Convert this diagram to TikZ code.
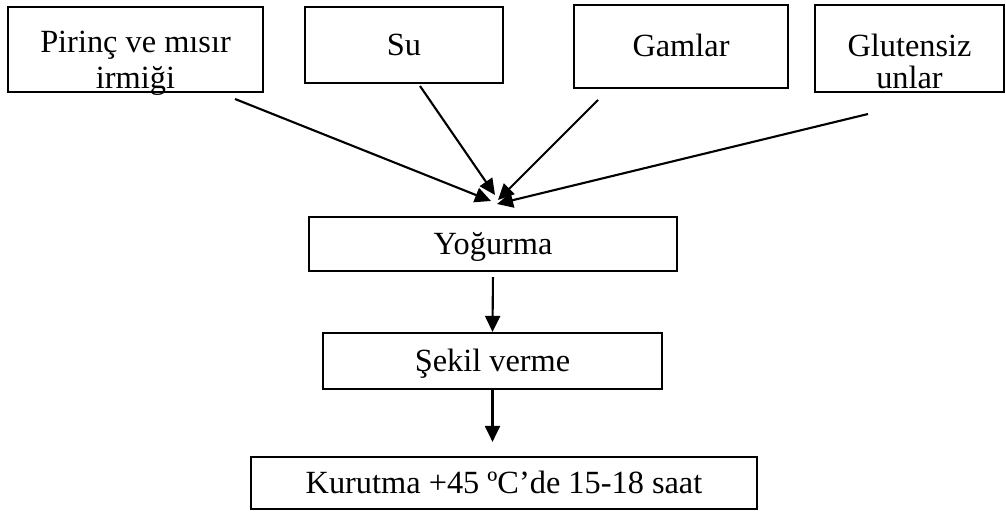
\documentclass[tikz,border=0pt]{standalone}
\usepackage{fontspec}
\setmainfont{Liberation Serif}
\usetikzlibrary{arrows.meta}
\tikzset{kutu/.style=
   {draw, line width=0.6pt, inner sep=0pt, font=\fontsize{9.2pt}{8.2pt}\selectfont,
    text height=0.21cm, text depth=0pt},
   ok/.style={-{Triangle[length=0.16cm,width=0.15cm]}, line width=0.6pt}}

\begin{document}
\begin{tikzpicture}[x=0.01cm, y=-0.01cm]
\useasboundingbox (0,0) rectangle (1006,513);

% girdiler
\node[kutu, align=center, minimum width=2.55cm, minimum height=0.85cm, text height=0.81cm, text depth=0.04cm] (pirinc) at (135.5,49.5) {Pirinç ve mısır\\[0.03cm]irmiği};
\node[kutu, minimum width=1.98cm, minimum height=0.76cm] (su) at (404,45) {Su};
\node[kutu, minimum width=2.14cm, minimum height=0.83cm] (gam) at (681,46.5) {Gamlar};
\node[kutu, align=center, minimum width=1.89cm, minimum height=0.87cm, text height=0.83cm, text depth=0.04cm] (gluten) at (909.5,48.5) {Glutensiz\\[0.03cm]unlar};

% adimlar
\node[kutu, minimum width=3.68cm, minimum height=0.54cm] (yog) at (493,244) {Yoğurma};
\node[kutu, minimum width=3.39cm, minimum height=0.56cm] (sekil) at (492.5,361) {Şekil verme};
\node[kutu, minimum width=5.06cm, minimum height=0.52cm] (kurut) at (504,483) {Kurutma +45 ºC’de 15-18 saat};

\coordinate (p1) at (235,99);
\coordinate (p2) at (420,86);
\coordinate (p3) at (598,100);
\coordinate (p4) at (868,114);
\coordinate (t1) at (491,201);
\coordinate (t2) at (495,195);
\coordinate (t3) at (498,200);
\coordinate (t4) at (497,204);

\draw[ok] (p1)--(t1);
\draw[ok] (p2)--(t2);
\draw[ok] (p3)--(t3);
\draw[ok] (p4)--(t4);

\draw[ok, shorten <=0.05cm] (yog.south)--(sekil.north);
\draw[ok, shorten >=0.14cm] (sekil.south)--(sekil.south |- kurut.north);
\end{tikzpicture}
\end{document}
